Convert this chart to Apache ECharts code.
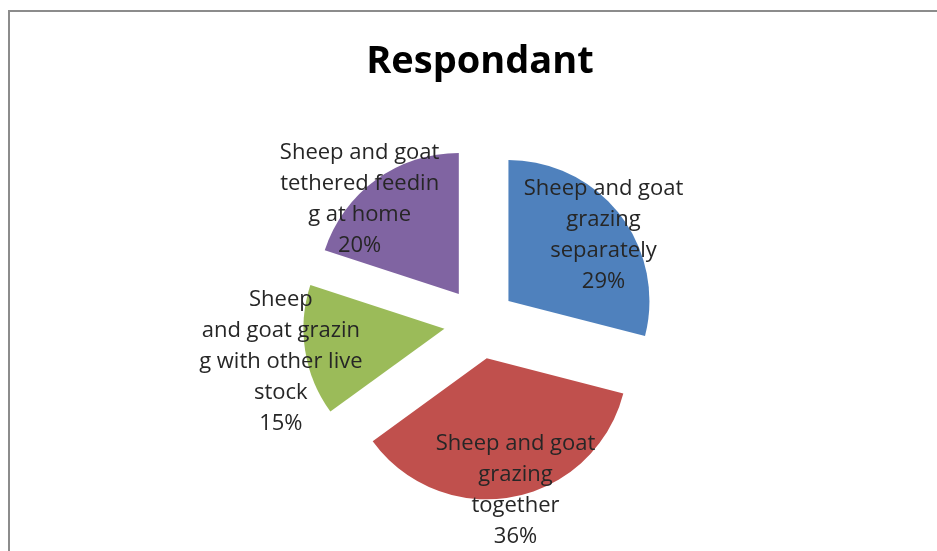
<!DOCTYPE html>
<html>
<head>
<meta charset="utf-8">
<title>Respondant</title>
<script src="https://cdn.jsdelivr.net/npm/echarts@6/dist/echarts.min.js"></script>
<style>
  html, body { margin: 0; padding: 0; background: #ffffff; }
  #chart { width: 937px; height: 551px; }
</style>
</head>
<body>
<div id="chart"></div>
<script>
// Feeding practices reported by respondents (share of answers)
const categories = [
  'Sheep and goat\ngrazing\nseparately',
  'Sheep and goat\ngrazing\ntogether',
  'Sheep\nand goat grazin\ng with other live\nstock',
  'Sheep and goat\ntethered feedin\ng at home'
];
const shares = [29, 36, 15, 20];
const colors = ['#4F81BD', '#C0504D', '#9BBB59', '#8064A2'];

// nudge each label away from the slice middle, toward the rim
const labelShift = [[37, -21], [15, 60], [-91, 22], [-56, -35]];

const chart = echarts.init(document.getElementById('chart'), null, { renderer: 'canvas' });

const pieData = categories.map((name, i) => ({
  name: name,
  value: shares[i],
  selected: true,
  itemStyle: { color: colors[i] }
}));

chart.setOption({
  animation: false,
  backgroundColor: '#ffffff',
  title: {
    text: 'Respondant',
    left: 475,
    top: 38,
    textAlign: 'center',
    textStyle: {
      fontFamily: 'Open Sans',
      fontWeight: 'bold',
      fontSize: 38,
      color: '#000000'
    }
  },
  graphic: [{
    type: 'rect',
    silent: true,
    shape: { x: 9, y: 11, width: 960, height: 600 },
    style: { fill: 'none', stroke: '#8c8c8c', lineWidth: 2 }
  }],
  series: [{
    type: 'pie',
    center: [480, 323],
    radius: 141,
    startAngle: 90,
    clockwise: true,
    selectedMode: 'multiple',
    selectedOffset: 36,
    data: pieData,
    itemStyle: { borderWidth: 0 },
    emphasis: { disabled: true, scale: false },
    select: { itemStyle: { borderWidth: 0 } },
    labelLine: { show: false },
    label: {
      show: true,
      position: 'inside',
      formatter: p => p.name + '\n' + p.value + '%',
      fontFamily: 'Open Sans',
      fontSize: 22,
      lineHeight: 31,
      color: '#262626',
      align: 'center'
    },
    labelLayout: p => ({ dx: labelShift[p.dataIndex][0], dy: labelShift[p.dataIndex][1] })
  }]
});
</script>
</body>
</html>
